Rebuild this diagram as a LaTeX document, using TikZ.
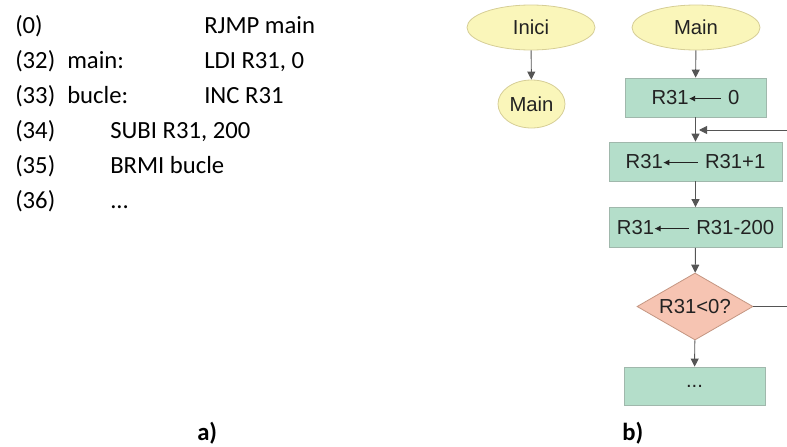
\documentclass[tikz,border=0pt]{standalone}
\usepackage{fontspec}
\setmainfont{Carlito}
\newfontfamily\flowfont{Liberation Sans}
\usetikzlibrary{shapes.geometric,arrows.meta}
\definecolor{ellfill}{RGB}{250,246,186}
\definecolor{elldraw}{RGB}{214,206,150}
\definecolor{boxfill}{RGB}{180,222,202}
\definecolor{boxdraw}{RGB}{160,184,172}
\definecolor{diafill}{RGB}{246,196,178}
\definecolor{diadraw}{RGB}{196,150,130}
\definecolor{linegray}{RGB}{85,85,85}
\definecolor{txtgray}{RGB}{34,34,34}
\newcommand{\asgarrow}[1]{\tikz[baseline=-0.55ex]\draw[line width=0.6pt,color=txtgray,{Latex[length=4.5pt,width=4.5pt]}-] (0,0)--(#1,0);}
\tikzset{
  code/.style={anchor=base west,inner sep=0pt,font=\fontsize{18.5}{20}\selectfont,text=black},
  lbl/.style={anchor=base west,inner sep=0pt,font=\fontsize{18.5}{20}\selectfont\bfseries,text=black},
  term/.style={ellipse,draw=elldraw,fill=ellfill,line width=0.6pt,inner sep=0pt,font=\flowfont\fontsize{15.2}{17}\selectfont,text=txtgray},
  proc/.style={rectangle,draw=boxdraw,fill=boxfill,line width=0.6pt,inner sep=0pt,font=\flowfont\fontsize{15.2}{17}\selectfont,text=txtgray},
  dec/.style={diamond,draw=diadraw,fill=diafill,line width=0.6pt,inner sep=0pt,font=\flowfont\fontsize{15.2}{17}\selectfont,text=txtgray},
  conn/.style={draw=linegray,line width=0.7pt,-{Triangle[length=6pt,width=6pt]}},
  plain/.style={draw=linegray,line width=0.7pt}
}
\begin{document}
\begin{tikzpicture}[x=0.75pt,y=-0.75pt]
\path[use as bounding box,clip] (0,0) rectangle (787,446);
% left: code listing
\node[code] (r1a) at (15,33.3) {(0)};
\node[code] (r1c) at (204,33.3) {RJMP main};
\node[code] (r2a) at (15,68.3) {(32)};
\node[code] (r2b) at (67,68.3) {main:};
\node[code] (r2c) at (204,68.3) {LDI R31, 0};
\node[code] (r3a) at (15,103.3) {(33)};
\node[code] (r3b) at (67,103.3) {bucle:};
\node[code] (r3c) at (204,103.3) {INC R31};
\node[code] (r4a) at (15,138.3) {(34)};
\node[code] (r4c) at (110,138.3) {SUBI R31, 200};
\node[code] (r5a) at (15,173.3) {(35)};
\node[code] (r5c) at (110,173.3) {BRMI bucle};
\node[code] (r6a) at (15,208.3) {(36)};
\node[code] (r6c) at (110,208.3) {...};
\node[lbl] (la) at (197,440) {a)};
\node[lbl] (lb) at (622,440) {b)};
% flowchart left
\node[term,minimum width=128*0.75pt,minimum height=45*0.75pt] (inici) at (531,27.5) {Inici};
\node[term,minimum width=67*0.75pt,minimum height=48*0.75pt] (mainS) at (531.5,104) {Main};
\draw[conn] (inici) -- (mainS);
% flowchart right
\node[term,minimum width=128*0.75pt,minimum height=45*0.75pt] (mainT) at (696,27.5) {Main};
\node[proc,minimum width=141*0.75pt,minimum height=39*0.75pt] (b1) at (695.5,97.5) {R31\asgarrow{24pt}\,\,0};
\node[proc,minimum width=173*0.75pt,minimum height=39*0.75pt] (b2) at (695.5,161.5) {R31\asgarrow{26pt}\,\,R31+1};
\node[proc,minimum width=173*0.75pt,minimum height=40*0.75pt] (b3) at (695.5,227.5) {R31\asgarrow{26pt}\,\,R31-200};
\node[dec,minimum width=116*0.75pt,minimum height=67*0.75pt,aspect=1.73] (d) at (695,306.5) {R31<0?};
\node[proc,minimum width=141*0.75pt,minimum height=38*0.75pt] (b4) at (694.5,386) {...};
\coordinate (loopin) at (699,130);
\coordinate (loopR) at (800,306.5);
\coordinate (loopT) at (800,130);
\draw[conn] (mainT) -- (b1);
\draw[conn] (b1.south) -- (b2.north);
\draw[conn] (b2) -- (b3);
\draw[conn] (b3) -- (d);
\draw[conn] (d) -- (b4);
\draw[conn] (d.east) -- (loopR) -- (loopT) -- (loopin);
\end{tikzpicture}
\end{document}
